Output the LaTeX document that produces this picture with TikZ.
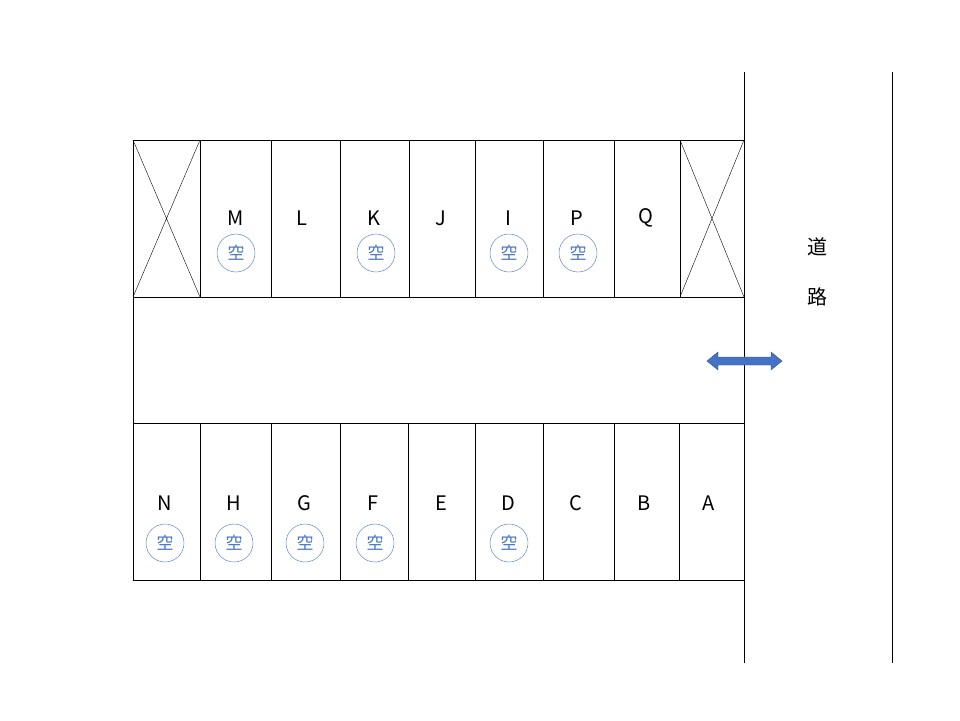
\documentclass[tikz,border=0pt]{standalone}
\usepackage{fontspec}
\setmainfont{Noto Sans CJK JP}
\definecolor{cblue}{RGB}{68,114,196}
\begin{document}
\begin{tikzpicture}[x=1pt,y=-1pt,
  lbl/.style={font=\fontsize{20}{20}\selectfont},
  vac/.style={circle,draw=cblue,minimum size=38pt,inner sep=0pt,text=cblue,font=\fontsize{17}{17}\selectfont}]
\useasboundingbox (0,0) rectangle (960,720);
% top row
\draw (133,140) rectangle (744,297);
\foreach \x in {200,271,340,409,475,543,614,680} \draw (\x,140) -- (\x,297);
\draw (133,140) -- (200,297) (200,140) -- (133,297);
\draw (680,140) -- (744,297) (744,140) -- (680,297);
% bottom row
\draw (133,423) rectangle (744,580);
\foreach \x in {200,271,340,408,475,543,614,679} \draw (\x,423) -- (\x,580);
\draw (133,297) -- (133,423);
% road
\draw (744,72) -- (744,663);
\draw (892,72) -- (892,663);
\node[lbl] (road1) at (817,247) {道};
\node[lbl] (road2) at (817,297) {路};
% top labels
\foreach \n/\x in {M/236,L/302,K/374,J/441,I/508,P/577,Q/646}
  \node[lbl] (t\n) at (\x,218) {\n};
\foreach \n/\x in {M/236,K/376,I/509,P/578}
  \node[vac] (vt\n) at (\x,253) {空};
% bottom labels
\foreach \n/\x in {N/165,H/234,G/304,F/373,E/441,D/508,C/576,B/644,A/709}
  \node[lbl] (b\n) at (\x,503) {\n};
\foreach \n/\x in {N/165,H/234,G/305,F/375,D/509}
  \node[vac] (vb\n) at (\x,543) {空};
% arrow
\filldraw[fill=cblue,draw=cblue!70!black,line join=miter]
  (707,361) -- (718,352) -- (718,357) -- (771,357) -- (771,352) -- (782,361)
  -- (771,370) -- (771,365) -- (718,365) -- (718,370) -- cycle;
\end{tikzpicture}
\end{document}
